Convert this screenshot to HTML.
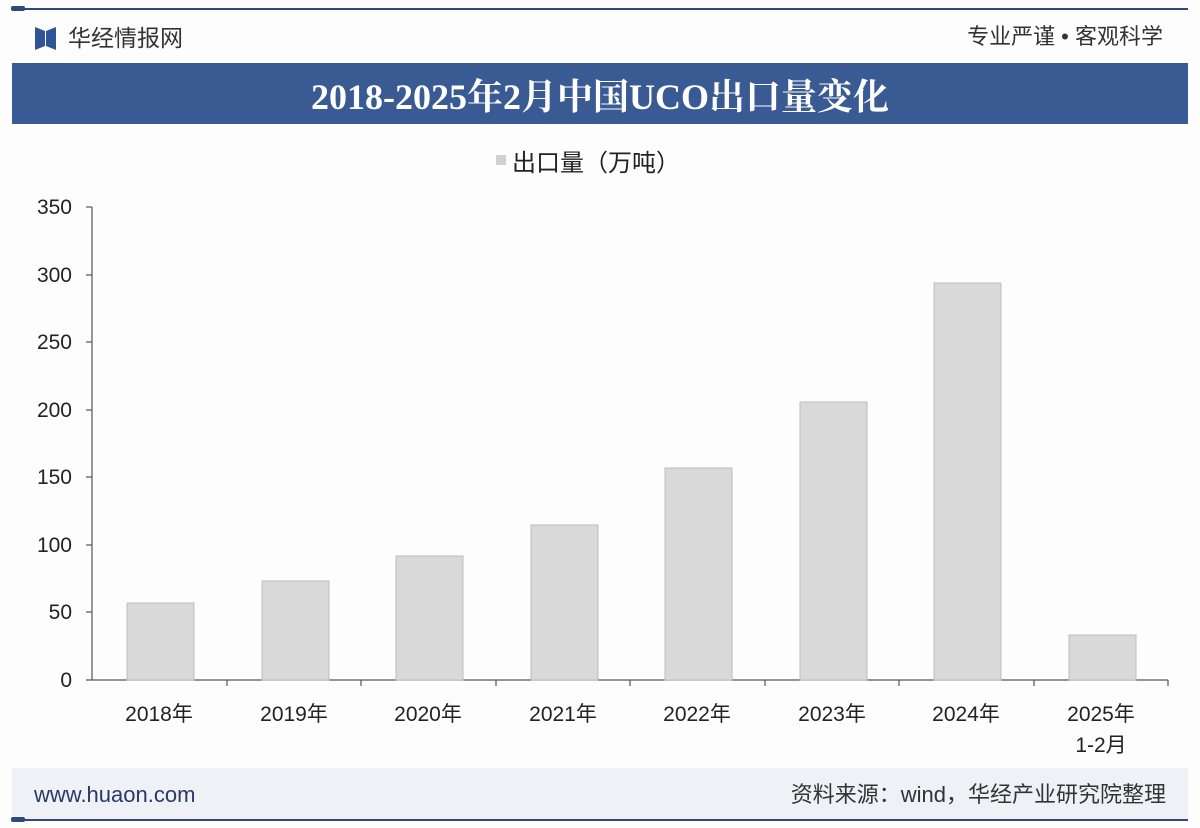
<!DOCTYPE html>
<html><head><meta charset="utf-8"><style>
html,body{margin:0;padding:0;background:#fff;}
svg{display:block;font-family:"Liberation Sans","Noto Sans CJK SC",sans-serif;}
</style></head><body>
<svg width="1200" height="828" viewBox="0 0 1200 828" xmlns="http://www.w3.org/2000/svg">
<rect width="1200" height="828" fill="#fdfdfe"/>
<line x1="12" y1="9" x2="1188" y2="9" stroke="#2f4a7a" stroke-width="2"/>
<rect x="11" y="6" width="14" height="5" rx="2" fill="#2f4a7a"/>
<path d="M35 27 L45 31 L45 46 L35 50 Z" fill="#2f5597"/>
<path d="M56 27 L46 31 L46 46 L56 50 Z" fill="#2f5597"/>
<text x="68" y="46" font-size="23" fill="#333">华经情报网</text>
<text x="1163" y="44" font-size="22" fill="#333" text-anchor="end">专业严谨 • 客观科学</text>
<rect x="12" y="63" width="1176" height="61" fill="#3a5a94"/>
<text x="600" y="109" font-size="36" font-weight="bold" fill="#fff" text-anchor="middle" font-family="Liberation Serif,'Noto Serif CJK SC',serif">2018-2025年2月中国UCO出口量变化</text>
<rect x="496" y="155" width="10" height="10" fill="#d0d0d0"/>
<text x="512" y="171" font-size="24" fill="#222">出口量（万吨）</text>
<g font-size="21" fill="#222" text-anchor="end">
<text x="72" y="214">350</text><text x="72" y="282">300</text><text x="72" y="349">250</text>
<text x="72" y="417">200</text><text x="72" y="484">150</text><text x="72" y="552">100</text>
<text x="72" y="619">50</text><text x="72" y="687">0</text>
</g>
<g stroke="#555" stroke-width="1.2">
<line x1="92" y1="207" x2="92" y2="680"/>
<line x1="86" y1="680" x2="1168" y2="680"/>
<line x1="86" y1="207" x2="92" y2="207"/><line x1="86" y1="275" x2="92" y2="275"/>
<line x1="86" y1="342" x2="92" y2="342"/><line x1="86" y1="410" x2="92" y2="410"/>
<line x1="86" y1="477" x2="92" y2="477"/><line x1="86" y1="545" x2="92" y2="545"/>
<line x1="86" y1="612" x2="92" y2="612"/>
<line x1="227" y1="680" x2="227" y2="686"/><line x1="361" y1="680" x2="361" y2="686"/>
<line x1="496" y1="680" x2="496" y2="686"/><line x1="630" y1="680" x2="630" y2="686"/>
<line x1="765" y1="680" x2="765" y2="686"/><line x1="899" y1="680" x2="899" y2="686"/>
<line x1="1034" y1="680" x2="1034" y2="686"/><line x1="1168" y1="680" x2="1168" y2="686"/>
</g>
<g fill="#d9d9d9" stroke="#bdbdbd" stroke-width="1">
<rect x="127" y="603" width="67" height="77"/>
<rect x="262" y="581" width="67" height="99"/>
<rect x="396" y="556" width="67" height="124"/>
<rect x="531" y="525" width="67" height="155"/>
<rect x="665" y="468" width="67" height="212"/>
<rect x="800" y="402" width="67" height="278"/>
<rect x="934" y="283" width="67" height="397"/>
<rect x="1069" y="635" width="67" height="45"/>
</g>
<g font-size="21" fill="#222" text-anchor="middle">
<text x="159" y="721">2018年</text><text x="294" y="721">2019年</text>
<text x="428" y="721">2020年</text><text x="563" y="721">2021年</text>
<text x="697" y="721">2022年</text><text x="832" y="721">2023年</text>
<text x="966" y="721">2024年</text><text x="1101" y="721">2025年</text>
<text x="1101" y="752">1-2月</text>
</g>
<rect x="12" y="768" width="1176" height="52" fill="#eef1f6"/>
<text x="34" y="802" font-size="22" fill="#2a3a66">www.huaon.com</text>
<text x="1166" y="802" font-size="22" fill="#333" text-anchor="end">资料来源：wind，华经产业研究院整理</text>
<line x1="12" y1="820" x2="1188" y2="820" stroke="#2f4a7a" stroke-width="2"/>
<rect x="11" y="817" width="14" height="5" rx="2" fill="#2f4a7a"/>
</svg>
</body></html>
